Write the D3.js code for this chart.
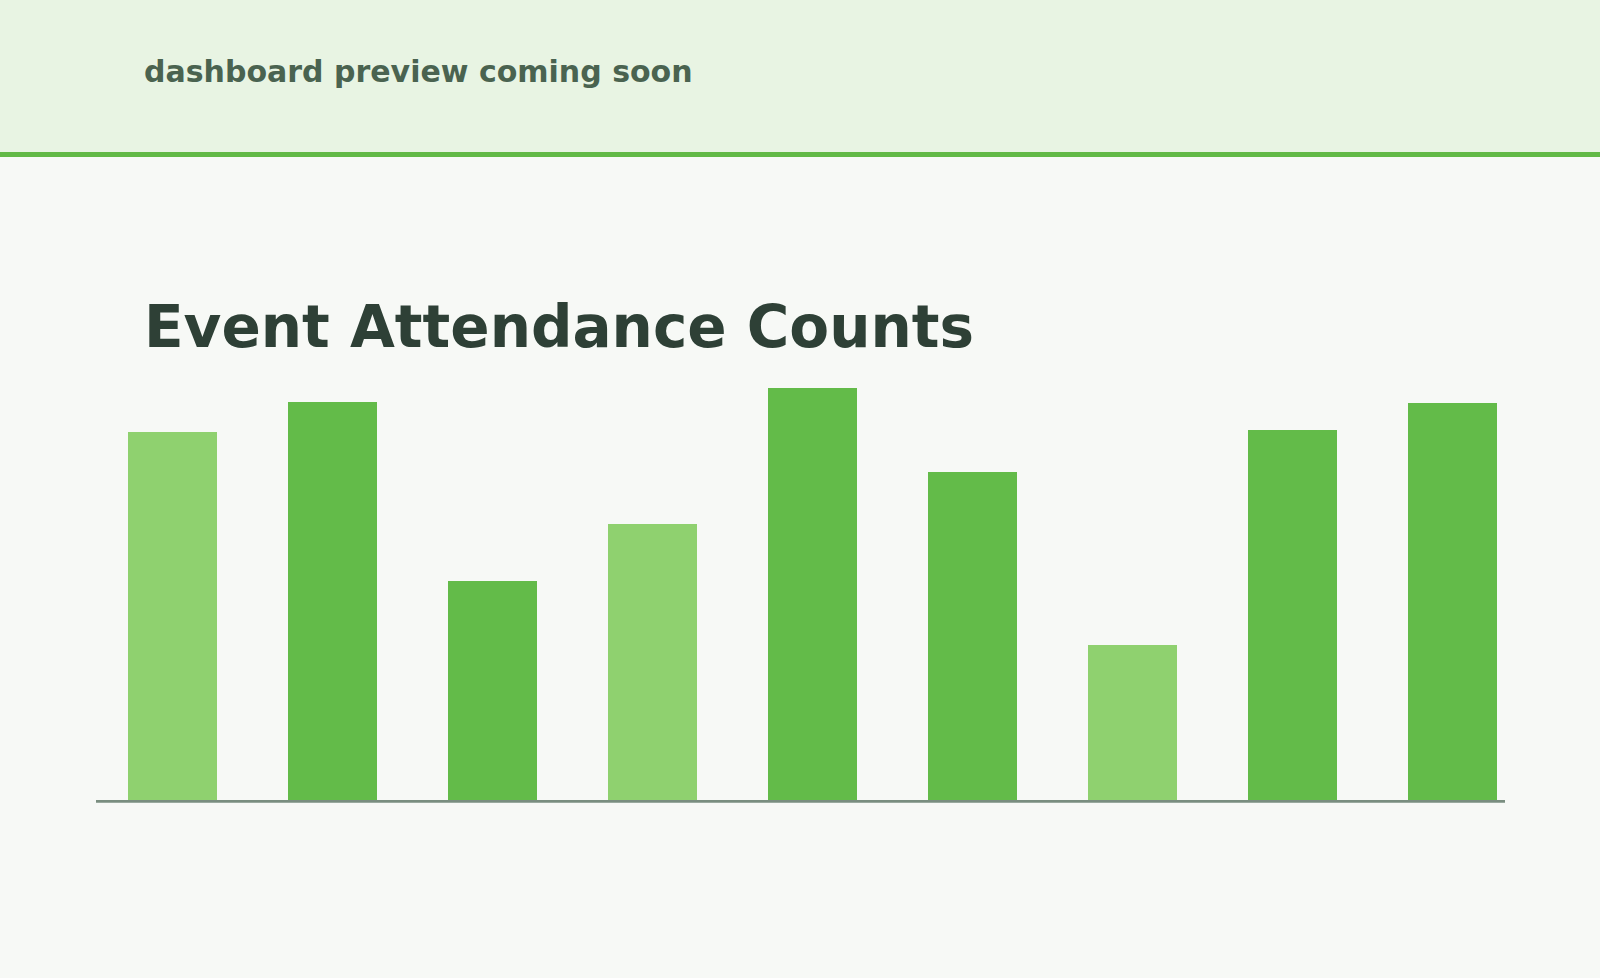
<!DOCTYPE html>
<html>
<head>
<meta charset="utf-8">
<script src="https://cdn.jsdelivr.net/npm/d3@7"></script>
<style>
  html, body { margin: 0; padding: 0; background: #f7f9f6; }
  body { width: 1600px; height: 978px; overflow: hidden; font-family: "DejaVu Sans", sans-serif; }
</style>
</head>
<body>
<div class="main"></div>
<script>
////Globals
const width = 1600;
const height = 978;

const events = ['E1', 'E2', 'E3', 'E4', 'E5', 'E6', 'E7', 'E8', 'E9'];
const attendance = [368, 398, 219, 276, 412, 328, 155, 370, 397];
const highlight = [true, false, false, true, false, false, true, false, false];

const svg = d3.select('.main').append('svg')
  .attr('width', width)
  .attr('height', height);

// header band
svg.append('rect')
  .attr('x', 0).attr('y', 0)
  .attr('width', width).attr('height', 152)
  .attr('fill', '#e8f4e3');
svg.append('rect')
  .attr('x', 0).attr('y', 152)
  .attr('width', width).attr('height', 5)
  .attr('fill', '#62b946');
svg.append('text')
  .attr('x', 144).attr('y', 82)
  .attr('font-size', 30)
  .attr('font-weight', 'bold')
  .attr('fill', '#4a6350')
  .text('dashboard preview coming soon');

svg.append('text')
  .attr('x', 144).attr('y', 347)
  .attr('font-size', 58)
  .attr('font-weight', 'bold')
  .attr('fill', '#2e4036')
  .text('Event Attendance Counts');

const x = d3.scaleBand()
  .domain(events)
  .range([92.5, 1532.5])
  .paddingInner(0.44375)
  .paddingOuter(0.221875);

const y = d3.scaleLinear()
  .domain([0, 420])
  .range([800, 380]);

svg.append('g')
  .selectAll('rect')
  .data(events)
  .enter()
  .append('rect')
  .attr('x', d => x(d))
  .attr('y', (d, i) => y(attendance[i]))
  .attr('width', x.bandwidth())
  .attr('height', (d, i) => y(0) - y(attendance[i]))
  .attr('fill', (d, i) => highlight[i] ? '#8fd16f' : '#63bb49');

// baseline
svg.append('line')
  .attr('x1', 96).attr('x2', 1505)
  .attr('y1', y(0) + 1.4).attr('y2', y(0) + 1.4)
  .attr('stroke', '#7a8e80')
  .attr('stroke-width', 2.8);
</script>
</body>
</html>
